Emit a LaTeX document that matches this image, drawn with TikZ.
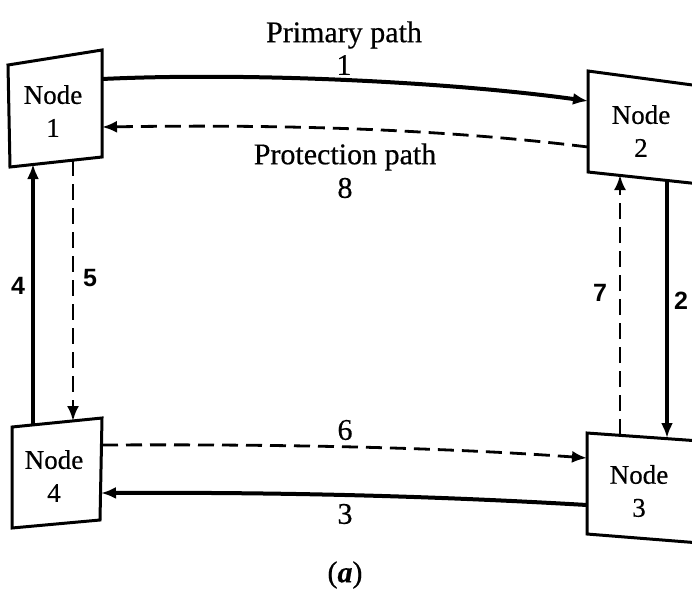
\documentclass[tikz,border=0pt]{standalone}
\usepackage{fontspec}
\setmainfont{Liberation Serif}[FakeBold=0.5]
\newfontfamily\numfont{Liberation Sans}
\usetikzlibrary{arrows.meta}
\begin{document}
\begin{tikzpicture}[x=0.5pt,y=-0.5pt,
  box/.style={draw=black, line width=1.5pt, line join=miter},
  nodetext/.style={align=center, font=\fontsize{13.5}{16.5}\selectfont, inner sep=0pt},
  lbl/.style={font=\fontsize{15}{18}\selectfont, inner sep=0pt},
  slbl/.style={font=\numfont\bfseries\fontsize{12.5}{14}\selectfont, inner sep=0pt},
  work/.style={line width=2pt, -{Latex[length=7.5pt,width=6pt]}},
  prot/.style={line width=1.4pt, dash pattern=on 8pt off 4pt, -{Latex[length=7.5pt,width=6pt]}},
]
\useasboundingbox (0,0) rectangle (692,591);
\fill[white] (0,0) rectangle (692,591);

% corners of the four (slightly skewed) node boxes
\coordinate (b1tl) at (8,65);    \coordinate (b1tr) at (102,50);
\coordinate (b1br) at (102,157); \coordinate (b1bl) at (10,167);
\coordinate (b2tl) at (588,71);  \coordinate (b2tr) at (700,86);
\coordinate (b2br) at (700,184); \coordinate (b2bl) at (588,172);
\coordinate (b3tl) at (587,433); \coordinate (b3tr) at (700,441);
\coordinate (b3br) at (700,543); \coordinate (b3bl) at (587,534);
\coordinate (b4tl) at (12,427);  \coordinate (b4tr) at (102,418);
\coordinate (b4br) at (100,520); \coordinate (b4bl) at (12,528);

\draw[box] (b1tl) -- (b1tr) -- (b1br) -- (b1bl) -- cycle;
\draw[box] (b2tl) -- (b2tr) -- (b2br) -- (b2bl) -- cycle;
\draw[box] (b3tl) -- (b3tr) -- (b3br) -- (b3bl) -- cycle;
\draw[box] (b4tl) -- (b4tr) -- (b4br) -- (b4bl) -- cycle;

\node[nodetext] (n1) at (53,111) {Node\\1};
\node[nodetext] (n2) at (641,131) {Node\\2};
\node[nodetext] (n3) at (639,491) {Node\\3};
\node[nodetext] (n4) at (54,476) {Node\\4};

% link end points on the box edges
\coordinate (p1s) at (102,79);  \coordinate (p1e) at (588,101);
\coordinate (p8s) at (588,147); \coordinate (p8e) at (102,127);
\coordinate (p4s) at (33,425);  \coordinate (p4e) at (33,164);
\coordinate (p5s) at (73,160);  \coordinate (p5e) at (73,421);
\coordinate (p2s) at (667,180); \coordinate (p2e) at (667,438);
\coordinate (p7s) at (620,435); \coordinate (p7e) at (620,175);
\coordinate (p6s) at (102,445); \coordinate (p6e) at (587,458);
\coordinate (p3s) at (587,505); \coordinate (p3e) at (101,493);

% primary (working) links
\draw[work] (p1s) .. controls (250,72) and (450,82) .. (p1e);
\draw[work] (p2s) -- (p2e);
\draw[work] (p3s) .. controls (450,497) and (300,492) .. (p3e);
\draw[work] (p4s) -- (p4e);

% protection links
\draw[prot] (p8s) .. controls (450,130) and (300,124) .. (p8e);
\draw[prot] (p5s) -- (p5e);
\draw[prot] (p6s) .. controls (300,444) and (450,448) .. (p6e);
\draw[prot] (p7s) -- (p7e);

% labels
\node[lbl] (tprim) at (344,35) {Primary path};
\node[lbl] (t1) at (344,65) {1};
\node[lbl] (tprot) at (345,157) {Protection path};
\node[lbl] (t8) at (345,188) {8};
\node[lbl] (t6) at (345,430) {6};
\node[lbl] (t3) at (345,514) {3};
\node[slbl] (t4) at (18,286) {4};
\node[slbl] (t5) at (90,278) {5};
\node[slbl] (t7) at (600,293) {7};
\node[slbl] (t2) at (681,301) {2};
\node[lbl] (cap) at (345,575) {(\textbf{\textit{a}})};
\end{tikzpicture}
\end{document}
